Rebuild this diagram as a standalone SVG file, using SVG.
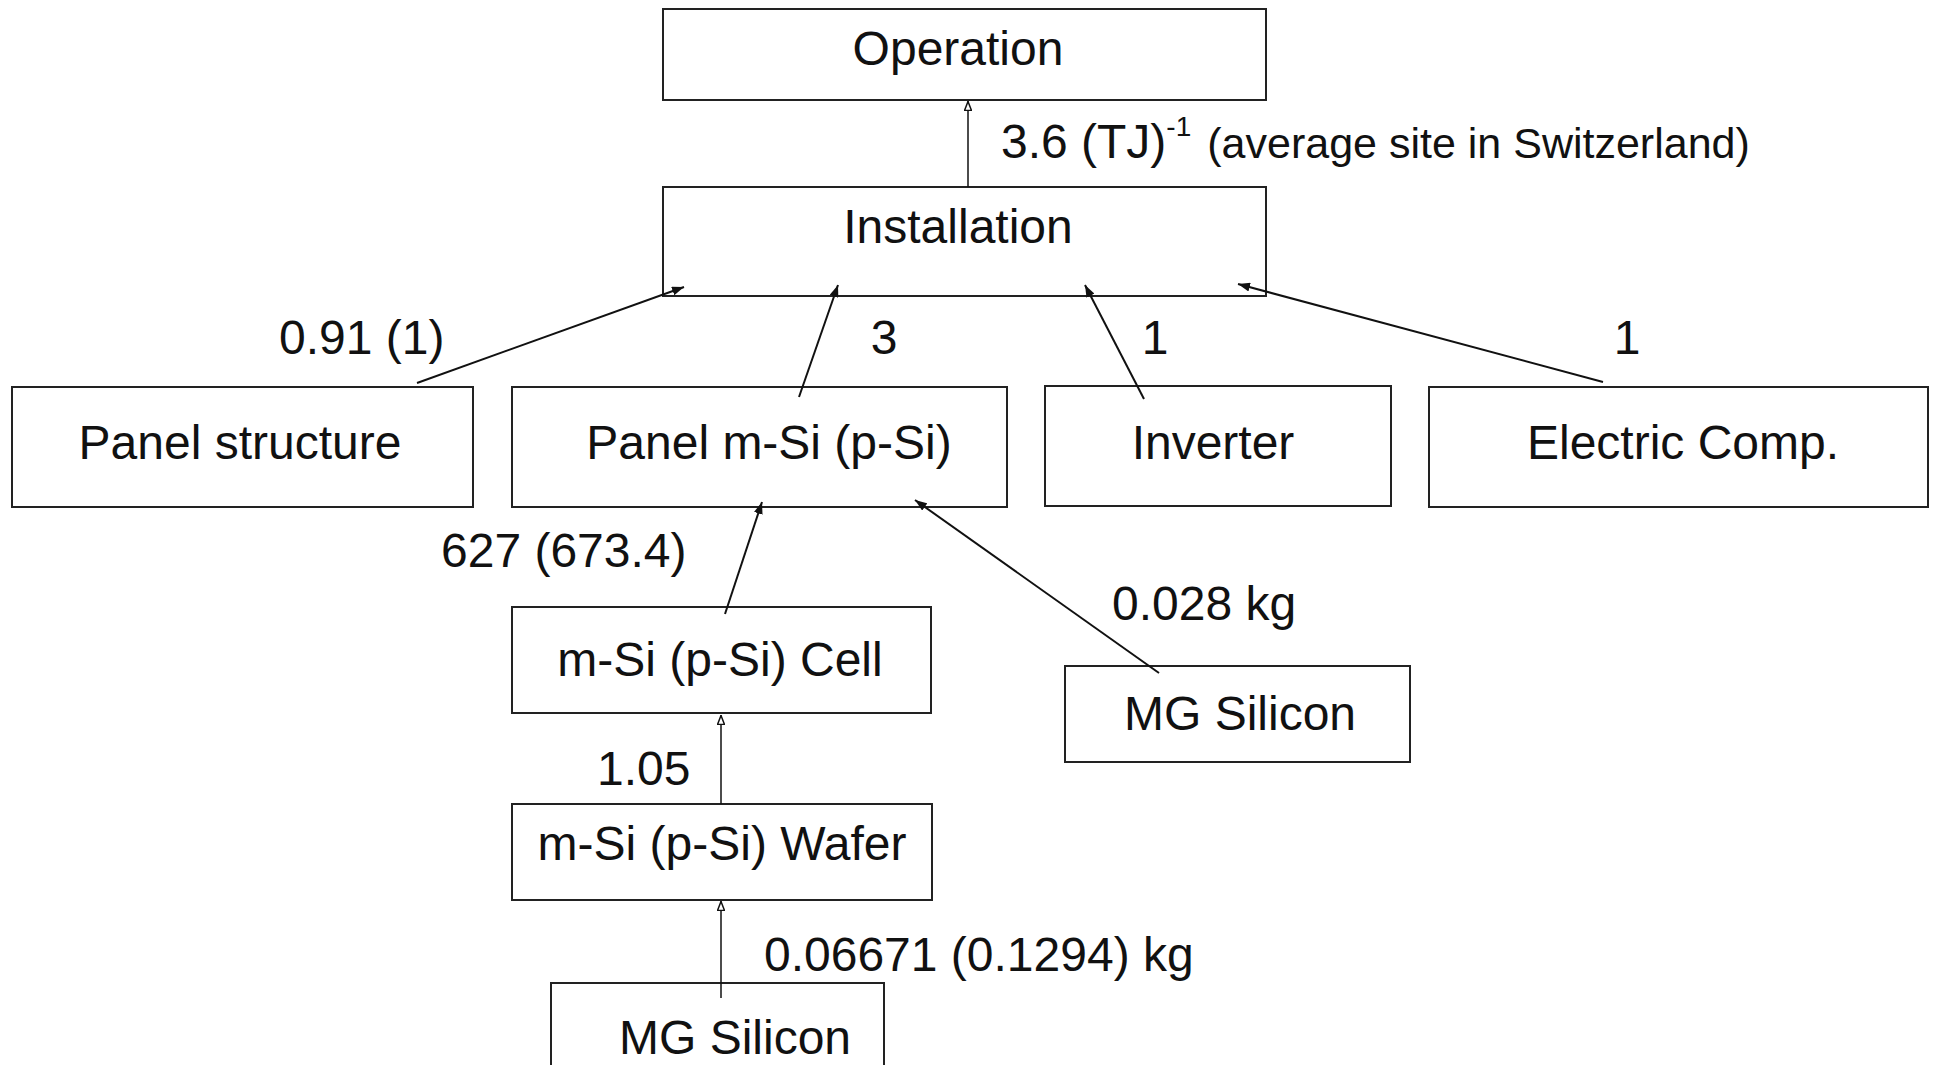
<svg xmlns="http://www.w3.org/2000/svg" width="1933" height="1065" viewBox="0 0 1933 1065">
<style>
.box{fill:#fff;stroke:#222;stroke-width:2}
.t{font-family:"Liberation Sans",Arial,sans-serif;font-size:48px;fill:#111;text-anchor:middle}
.l{font-family:"Liberation Sans",Arial,sans-serif;font-size:48px;fill:#111}
.c{stroke:#111;stroke-width:2;fill:none;marker-end:url(#ah)}
.cv{stroke:#111;stroke-width:1.5;fill:none;marker-end:url(#ao)}
</style>
<defs>
<marker id="ah" viewBox="0 0 12 9" refX="12" refY="4.5" markerWidth="12" markerHeight="9" markerUnits="userSpaceOnUse" orient="auto">
<path d="M0,0 L12,4.5 L0,9 Z" fill="#111"/>
</marker>
<marker id="ao" viewBox="0 0 10 8" refX="10" refY="4" markerWidth="10" markerHeight="8" markerUnits="userSpaceOnUse" orient="auto">
<path d="M0.5,0.5 L9.5,4 L0.5,7.5 Z" fill="#fff" stroke="#111" stroke-width="1.5"/>
</marker>
</defs>
<rect width="1933" height="1065" fill="#fff"/>
<g id="operation"><rect class="box" x="663" y="9" width="603" height="91"/><text class="t" x="958" y="65">Operation</text></g>
<g id="installation"><rect class="box" x="663" y="187" width="603" height="109"/><text class="t" x="958" y="243">Installation</text></g>
<g id="panel-structure"><rect class="box" x="12" y="387" width="461" height="120"/><text class="t" x="240" y="459">Panel structure</text></g>
<g id="panel-msi"><rect class="box" x="512" y="387" width="495" height="120"/><text class="t" x="769" y="459">Panel m-Si (p-Si)</text></g>
<g id="inverter"><rect class="box" x="1045" y="386" width="346" height="120"/><text class="t" x="1213" y="459">Inverter</text></g>
<g id="electric"><rect class="box" x="1429" y="387" width="499" height="120"/><text class="t" x="1683" y="459">Electric Comp.</text></g>
<g id="cell"><rect class="box" x="512" y="607" width="419" height="106"/><text class="t" x="720" y="676">m-Si (p-Si) Cell</text></g>
<g id="mg-silicon-right"><rect class="box" x="1065" y="666" width="345" height="96"/><text class="t" x="1240" y="730">MG Silicon</text></g>
<g id="wafer"><rect class="box" x="512" y="804" width="420" height="96"/><text class="t" x="722" y="860">m-Si (p-Si) Wafer</text></g>
<g id="mg-silicon-bottom"><rect class="box" x="551" y="983" width="333" height="100"/><text class="t" x="735" y="1054">MG Silicon</text></g>
<g id="connectors">
<line class="cv" x1="968" y1="187" x2="968" y2="101"/>
<line class="c" x1="417" y1="383" x2="684" y2="287"/>
<line class="c" x1="799" y1="397" x2="838" y2="285"/>
<line class="c" x1="1144" y1="399" x2="1085" y2="285"/>
<line class="c" x1="1603" y1="382" x2="1238" y2="284"/>
<line class="c" x1="725" y1="614" x2="762" y2="502"/>
<line class="c" x1="1159" y1="673" x2="915" y2="500"/>
<line class="cv" x1="721" y1="804" x2="721" y2="715"/>
<line class="cv" x1="721" y1="998" x2="721" y2="901"/>
</g>
<g id="labels">
<text class="l" x="1001" y="158">3.6 (TJ)<tspan font-size="28" dy="-22">-1</tspan><tspan font-size="43" dy="22" dx="16">(average site in Switzerland)</tspan></text>
<text class="l" x="279" y="354">0.91 (1)</text>
<text class="t" x="884" y="354">3</text>
<text class="t" x="1155" y="354">1</text>
<text class="t" x="1627" y="354">1</text>
<text class="l" x="441" y="567">627 (673.4)</text>
<text class="l" x="1112" y="620">0.028 kg</text>
<text class="l" x="597" y="785">1.05</text>
<text class="l" x="764" y="971">0.06671 (0.1294) kg</text>
</g>
</svg>
